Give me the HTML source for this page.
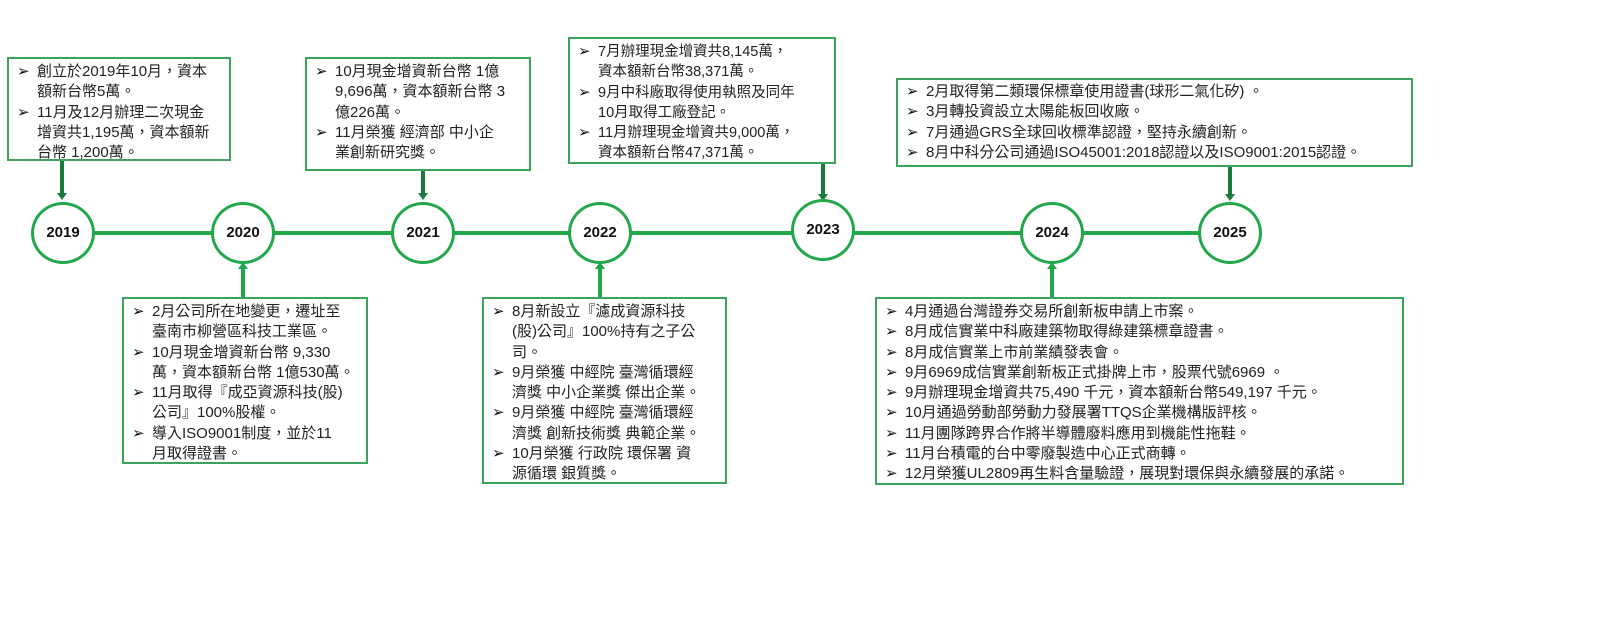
<!DOCTYPE html>
<html><head><meta charset="utf-8"><style>
body{margin:0;width:1600px;height:630px;background:#fff;position:relative;overflow:hidden;font-family:"Liberation Sans","Noto Sans CJK TC",sans-serif;color:#222}
.b{position:absolute;border:2px solid #3aa55a;box-sizing:border-box;background:#fff;font-size:15px;line-height:20.3px;padding:3px 4px 0 8px}
.b div{padding-left:20px;text-indent:-20px;white-space:nowrap}
.b div::before{content:"➢";display:inline-block;width:20px;text-indent:0;font-size:15px;color:#111}
.c{position:absolute;width:64px;height:62px;border:3px solid #22a84a;border-radius:50%;background:#fff;box-sizing:border-box;text-align:center;line-height:56px;font-weight:bold;font-size:15px;color:#111}
.ln{position:absolute;left:63px;top:231px;width:1167px;height:4px;background:#22a84a}
.v{position:absolute;width:4px;background:#1d7a3e}
.dn{position:absolute;width:0;height:0;border-left:5px solid transparent;border-right:5px solid transparent;border-top:7px solid #1d7a3e}
.up{position:absolute;width:0;height:0;border-left:5px solid transparent;border-right:5px solid transparent;border-bottom:7px solid #22a84a}
.vu{position:absolute;width:4px;background:#22a84a}
</style></head><body>
<div class="ln"></div>
<div class="v" style="left:60px;top:160px;height:34px"></div><div class="dn" style="left:57px;top:193px"></div>
<div class="v" style="left:421px;top:170px;height:24px"></div><div class="dn" style="left:418px;top:193px"></div>
<div class="v" style="left:821px;top:163px;height:32px"></div><div class="dn" style="left:818px;top:194px"></div>
<div class="v" style="left:1228px;top:166px;height:29px"></div><div class="dn" style="left:1225px;top:194px"></div>
<div class="vu" style="left:241px;top:268px;height:30px"></div><div class="up" style="left:238px;top:262px"></div>
<div class="vu" style="left:598px;top:268px;height:30px"></div><div class="up" style="left:595px;top:262px"></div>
<div class="vu" style="left:1050px;top:268px;height:30px"></div><div class="up" style="left:1047px;top:262px"></div>
<div class="c" style="left:31px;top:202px">2019</div>
<div class="c" style="left:211px;top:202px">2020</div>
<div class="c" style="left:391px;top:202px">2021</div>
<div class="c" style="left:568px;top:202px">2022</div>
<div class="c" style="left:791px;top:199px">2023</div>
<div class="c" style="left:1020px;top:202px">2024</div>
<div class="c" style="left:1198px;top:202px">2025</div>
<div class="b" style="left:7px;top:57px;width:224px;height:104px">
<div>創立於2019年10月，資本<br>額新台幣5萬。</div>
<div>11月及12月辦理二次現金<br>增資共1,195萬，資本額新<br>台幣 1,200萬。</div></div>
<div class="b" style="left:305px;top:57px;width:226px;height:114px">
<div>10月現金增資新台幣 1億<br>9,696萬，資本額新台幣 3<br>億226萬。</div>
<div>11月榮獲 經濟部 中小企<br>業創新研究獎。</div></div>
<div class="b" style="left:568px;top:37px;width:268px;height:127px;font-size:14.5px">
<div>7月辦理現金增資共8,145萬，<br>資本額新台幣38,371萬。</div>
<div>9月中科廠取得使用執照及同年<br>10月取得工廠登記。</div>
<div>11月辦理現金增資共9,000萬，<br>資本額新台幣47,371萬。</div></div>
<div class="b" style="left:896px;top:78px;width:517px;height:89px;padding-top:2px">
<div>2月取得第二類環保標章使用證書(球形二氣化矽) 。</div>
<div>3月轉投資設立太陽能板回收廠。</div>
<div>7月通過GRS全球回收標準認證，堅持永續創新。</div>
<div>8月中科分公司通過ISO45001:2018認證以及ISO9001:2015認證。</div></div>
<div class="b" style="left:122px;top:297px;width:246px;height:167px">
<div>2月公司所在地變更，遷址至<br>臺南市柳營區科技工業區。</div>
<div>10月現金增資新台幣 9,330<br>萬，資本額新台幣 1億530萬。</div>
<div>11月取得『成亞資源科技(股)<br>公司』100%股權。</div>
<div>導入ISO9001制度，並於11<br>月取得證書。</div></div>
<div class="b" style="left:482px;top:297px;width:245px;height:187px">
<div>8月新設立『濾成資源科技<br>(股)公司』100%持有之子公<br>司。</div>
<div>9月榮獲 中經院 臺灣循環經<br>濟獎 中小企業獎 傑出企業。</div>
<div>9月榮獲 中經院 臺灣循環經<br>濟獎 創新技術獎 典範企業。</div>
<div>10月榮獲 行政院 環保署 資<br>源循環 銀質獎。</div></div>
<div class="b" style="left:875px;top:297px;width:529px;height:188px">
<div>4月通過台灣證券交易所創新板申請上市案。</div>
<div>8月成信實業中科廠建築物取得綠建築標章證書。</div>
<div>8月成信實業上市前業績發表會。</div>
<div>9月6969成信實業創新板正式掛牌上市，股票代號6969 。</div>
<div>9月辦理現金增資共75,490 千元，資本額新台幣549,197 千元。</div>
<div>10月通過勞動部勞動力發展署TTQS企業機構版評核。</div>
<div>11月團隊跨界合作將半導體廢料應用到機能性拖鞋。</div>
<div>11月台積電的台中零廢製造中心正式商轉。</div>
<div>12月榮獲UL2809再生料含量驗證，展現對環保與永續發展的承諾。</div></div>
</body></html>
